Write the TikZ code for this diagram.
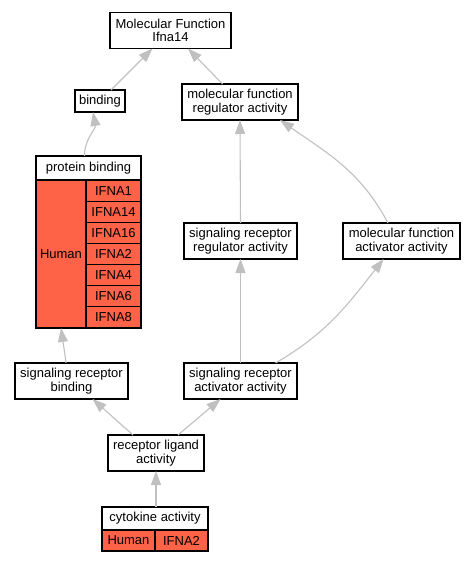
\documentclass[tikz,border=0pt]{standalone}
\usepackage{fontspec}
\setmainfont{Liberation Sans}
\usetikzlibrary{positioning,arrows.meta}
\definecolor{hitred}{HTML}{FF6347}
\definecolor{edgegray}{HTML}{C0C0C0}

\begin{document}
\begin{tikzpicture}[x=1bp,y=-1bp,font=\fontsize{13bp}{13.5bp}\selectfont,
    every node/.style={inner sep=0pt,outer sep=0pt},
    term/.style={draw,line width=1.2bp,fill=white,align=center,minimum height=36bp},
    onerow/.style={term,minimum height=23bp},
    hit/.style={draw,line width=1.2bp,fill=hitred,align=center},
    isa/.style={draw=edgegray,line width=1.1bp,-{Triangle[length=14bp,width=10bp,color=edgegray,fill=edgegray]}}]
	\useasboundingbox (0,0) rectangle (475,563);

	\node[term,minimum width=121bp]   (MolFunc)     at (170.5,30.5) {Molecular Function\\Ifna14};
	\node[onerow,minimum width=50bp,minimum height=22bp] (Binding) at (100,101) {binding};
	\node[term,minimum width=116bp]   (MFRegulator) at (240,102)    {molecular function\\regulator activity};
	\node[term,minimum width=113bp]   (SRRegulator) at (240.5,241)  {signaling receptor\\regulator activity};
	\node[term,minimum width=117bp]   (MFActivator) at (401.5,241)  {molecular function\\activator activity};
	\node[term,minimum width=113bp]   (SRBinding)   at (71.5,381)   {signaling receptor\\binding};
	\node[term,minimum width=113bp]   (SRActivator) at (240.5,381)  {signaling receptor\\activator activity};
	\node[term,minimum width=96bp]    (RLActivity)  at (156,453)    {receptor ligand\\activity};

	% protein binding with its genes
	\node[onerow,minimum width=105bp,minimum height=24bp] (ProtBinding) at (88.5,168) {protein binding};
	\node[hit,minimum width=50bp,minimum height=148bp,anchor=north west] (PBHuman) at (ProtBinding.south west) {Human};
	\node[hit,minimum width=55bp,minimum height=21.14bp,anchor=north west] (PBIfnaA) at (PBHuman.north east) {IFNA1};
	\node[hit,minimum width=55bp,minimum height=21.14bp,below=0pt of PBIfnaA] (PBIfnaB) {IFNA14};
	\node[hit,minimum width=55bp,minimum height=21.14bp,below=0pt of PBIfnaB] (PBIfnaC) {IFNA16};
	\node[hit,minimum width=55bp,minimum height=21.14bp,below=0pt of PBIfnaC] (PBIfnaD) {IFNA2};
	\node[hit,minimum width=55bp,minimum height=21.14bp,below=0pt of PBIfnaD] (PBIfnaE) {IFNA4};
	\node[hit,minimum width=55bp,minimum height=21.14bp,below=0pt of PBIfnaE] (PBIfnaF) {IFNA6};
	\node[hit,minimum width=55bp,minimum height=21.14bp,below=0pt of PBIfnaF] (PBIfnaG) {IFNA8};

	% cytokine activity with its gene
	\node[onerow,minimum width=106bp] (Cytokine) at (155,518.5) {cytokine activity};
	\node[hit,minimum width=53bp,minimum height=21bp,anchor=north west] (CAHuman) at (Cytokine.south west) {Human};
	\node[hit,minimum width=53bp,minimum height=21bp,right=0pt of CAHuman] (CAIfna) {IFNA2};

	\draw[isa] (Binding) -- (MolFunc);
	\draw[isa] (MFRegulator) -- (MolFunc);
	\draw[isa] ([xshift=-4bp]ProtBinding.north) to[out=90,in=-80] ([xshift=-7bp]Binding.south);
	\draw[isa] (SRRegulator.north) -- (MFRegulator.south);
	\draw[isa] ([xshift=-13.5bp]MFActivator.north) to[out=118,in=-35] ([xshift=40bp]MFRegulator.south);
	\draw[isa] (SRActivator.north) -- (SRRegulator.south);
	\draw[isa] ([xshift=35bp]SRActivator.north) to[out=30,in=-128] ([xshift=-18bp]MFActivator.south);
	\draw[isa] ([xshift=-5.5bp]SRBinding.north) to[out=97,in=-82] (PBHuman.south);
	\draw[isa] ([xshift=-23bp]RLActivity.north) -- ([xshift=21bp]SRBinding.south);
	\draw[isa] ([xshift=22bp]RLActivity.north) -- ([xshift=-20bp]SRActivator.south);
	\draw[isa] ([xshift=1bp]Cytokine.north) -- (RLActivity.south);
\end{tikzpicture}
\end{document}
